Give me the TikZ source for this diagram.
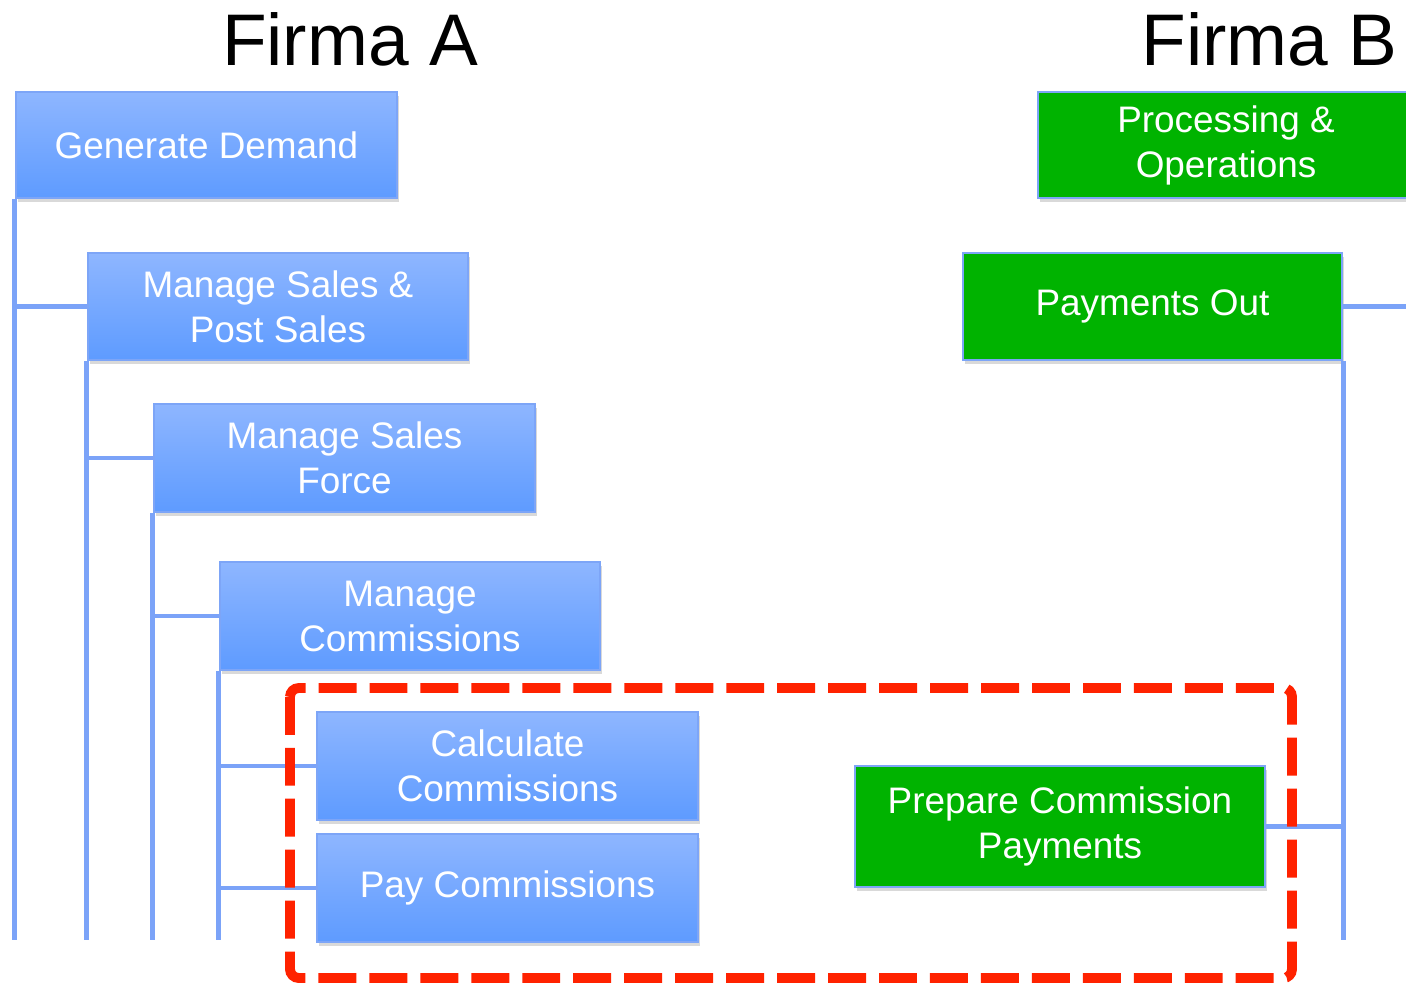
\documentclass[tikz,border=0pt]{standalone}
\usepackage{fontspec}
\setmainfont{Liberation Sans}
\usetikzlibrary{shadows}
\definecolor{boxtop}{HTML}{8EB6FF}
\definecolor{boxbot}{HTML}{5E9BFF}
\definecolor{boxline}{HTML}{7DA5F7}
\definecolor{firmgreen}{HTML}{00B300}
\definecolor{linkblue}{HTML}{7BA3F8}
\definecolor{markred}{HTML}{FF2200}

\begin{document}
\begin{tikzpicture}[
    taskbox/.style={draw=boxline, line width=0.8pt, text=white, align=center, inner sep=0pt,
        font=\fontsize{10.5}{12.8}\selectfont,
        drop shadow={shadow xshift=0.02cm, shadow yshift=-0.04cm, opacity=0.3}},
    bluebox/.style={taskbox, top color=boxtop, bottom color=boxbot},
    greenbox/.style={taskbox, fill=firmgreen},
    link/.style={linkblue, line width=1.2pt},
    title/.style={font=\fontsize{20.8}{25}\selectfont}
]
    \useasboundingbox (0,0) rectangle (14.06,-9.87);
    \clip (0,0) rectangle (14.06,-9.87);

    \node[title, anchor=base] (firmaA) at (3.50,-0.65) {Firma A};
    \node[title, anchor=base east] (firmaB) at (14.10,-0.65) {Firma B};

    \node[bluebox, minimum width=3.81cm, minimum height=1.06cm] (gd) at (2.065,-1.45) {Generate Demand};
    \node[bluebox, minimum width=3.80cm, minimum height=1.07cm] (msps) at (2.78,-3.065) {Manage Sales \&\\Post Sales};
    \node[bluebox, minimum width=3.81cm, minimum height=1.08cm] (msf) at (3.445,-4.58) {Manage Sales\\Force};
    \node[bluebox, minimum width=3.80cm, minimum height=1.08cm] (mc) at (4.10,-6.16) {Manage\\Commissions};
    \node[bluebox, minimum width=3.81cm, minimum height=1.08cm] (cc) at (5.075,-7.66) {Calculate\\Commissions};
    \node[bluebox, minimum width=3.81cm, minimum height=1.08cm] (pc) at (5.075,-8.88) {Pay Commissions};

    \node[greenbox, minimum width=3.76cm, minimum height=1.06cm] (po) at (12.26,-1.45) {Processing \&\\Operations};
    \node[greenbox, minimum width=3.79cm, minimum height=1.07cm] (pout) at (11.525,-3.065) {Payments Out};
    \node[greenbox, minimum width=4.10cm, minimum height=1.21cm] (pcp) at (10.60,-8.265) {Prepare Commission\\Payments};

    \coordinate (endline) at (0,-9.40);
    \coordinate (offright) at (14.30,-3.065);

    % Firma A
    \draw[link] (gd.south west) -- (gd.south west |- endline);
    \draw[link] (msps.west) -- (msps.west -| gd.south west);
    \draw[link] (msps.south west) -- (msps.south west |- endline);
    \draw[link] (msf.west) -- (msf.west -| msps.south west);
    \draw[link] (msf.south west) -- (msf.south west |- endline);
    \draw[link] (mc.west) -- (mc.west -| msf.south west);
    \draw[link] (mc.south west) -- (mc.south west |- endline);
    \draw[link] (cc.west) -- (cc.west -| mc.south west);
    \draw[link] (pc.west) -- (pc.west -| mc.south west);

    % Firma B
    \draw[link] (pout.east) -- (offright);
    \draw[link] (pout.south east) -- (pout.south east |- endline);
    \draw[link] (pcp.east) -- (pcp.east -| pout.south east);

    \draw[markred, line width=2.8pt, dash pattern=on 10.8pt off 3.7pt, rounded corners=2.5pt]
        (2.90,-6.88) rectangle (12.92,-9.78);

\end{tikzpicture}
\end{document}
